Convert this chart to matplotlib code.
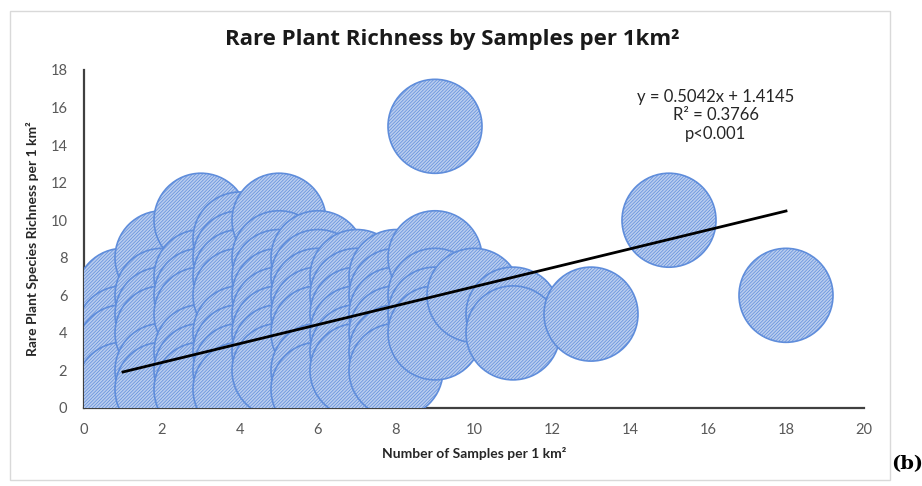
import numpy as np
import matplotlib
matplotlib.use("Agg")
import matplotlib.pyplot as plt
from matplotlib.patches import Rectangle

# Dados (amostras por 1 km2 -> riqueza de espécies raras)
samples = [1, 1, 1, 1,
           2, 2, 2, 2, 2, 2,
           3, 3, 3, 3, 3, 3, 3,
           4, 4, 4, 4, 4, 4, 4, 4,
           5, 5, 5, 5, 5, 5, 5, 5,
           6, 6, 6, 6, 6, 6, 6,
           7, 7, 7, 7, 7, 7,
           8, 8, 8, 8, 8, 8,
           9, 9, 9, 9, 9,
           10, 11, 11, 13, 15, 18]
richness = [6, 4, 3, 1,
            8, 6, 5, 4, 2, 1,
            10, 7, 6, 5, 3, 2, 1,
            9, 8, 7, 6, 4, 3, 2, 1,
            10, 8, 7, 6, 5, 4, 3, 2,
            8, 7, 6, 5, 4, 2, 1,
            7, 6, 5, 4, 3, 2,
            7, 6, 5, 4, 3, 2,
            15, 8, 6, 5, 4,
            6, 5, 4, 5, 10, 6]

# Linha de tendência (equação do gráfico original)
slope = 0.5042
intercept = 1.4145
eq_lines = ["y = 0.5042x + 1.4145", "R² = 0.3766", "p<0.001"]

x_ticks = np.arange(0, 21, 2)
y_ticks = np.arange(0, 19, 2)

plt.rcParams["font.family"] = ["Lato", "DejaVu Sans"]
plt.rcParams["hatch.color"] = "#6b92d6"
plt.rcParams["hatch.linewidth"] = 0.5

fig = plt.figure(figsize=(9.22, 4.86), dpi=100)
ax = fig.add_axes([0.0911, 0.1605, 0.846, 0.6955])

# Bolhas (todas do mesmo tamanho)
ax.scatter(samples, richness, s=4580, facecolor="#b9ccee", edgecolor="#5f8ddb",
           linewidth=1.2, hatch="//////////", zorder=3)

# Linha de tendência
xl = np.array([min(samples), max(samples)])
ax.plot(xl, slope * xl + intercept, color="black", lw=2, zorder=4)

ax.set_xlim(0, 20)
ax.set_ylim(0, 18)
ax.set_xticks(x_ticks)
ax.set_yticks(y_ticks)
ax.tick_params(length=0, labelsize=10.5, colors="#595959", pad=11)
ax.tick_params(axis="y", pad=12)

for s in ["top", "right"]:
    ax.spines[s].set_visible(False)
ax.spines["bottom"].set_color("#404040")
ax.spines["left"].set_color("#404040")
ax.spines["bottom"].set_linewidth(1.6)
ax.spines["left"].set_linewidth(1.6)

ax.set_xlabel("Number of Samples per 1 km²", fontsize=10, fontweight="bold",
              color="#262626", labelpad=7)
ax.set_ylabel("Rare Plant Species Richness per 1 km²", fontsize=10,
              fontweight="bold", color="#262626", labelpad=8)

fig.text(0.49, 0.918, "Rare Plant Richness by Samples per 1km²", ha="center",
         va="center", fontsize=16, fontweight="bold", color="#1a1a1a",
         family=["Open Sans", "DejaVu Sans"])

ax.text(16.2, 17.0, "\n".join(eq_lines), ha="center", va="top", fontsize=12,
        color="#262626", linespacing=1.2, zorder=5)

# Moldura do gráfico e rótulo (b)
fig.patches.append(Rectangle((0.0108, 0.0123), 0.954, 0.965, transform=fig.transFigure,
                             fill=False, edgecolor="#d9d9d9", lw=1))
fig.text(0.966, 0.045, "(b)", ha="left", va="center", fontsize=14,
         fontweight="bold", family="DejaVu Serif", color="black")

fig.savefig("out.png", dpi=100)
